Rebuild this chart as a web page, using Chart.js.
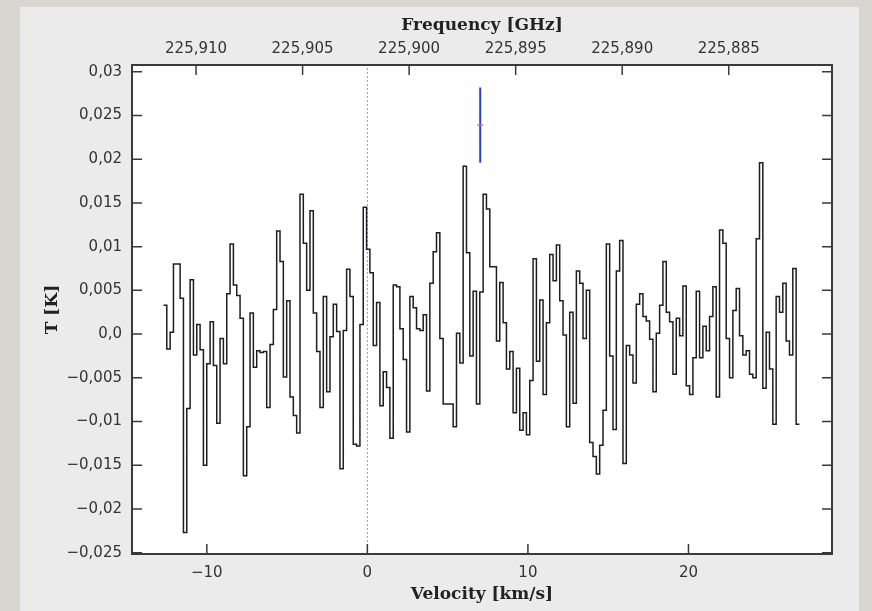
<!DOCTYPE html>
<html>
<head>
<meta charset="utf-8">
<title>Spectrum</title>
<script src="https://cdn.jsdelivr.net/npm/chart.js@4.4.1/dist/chart.umd.min.js"></script>
<style>
  html, body { margin: 0; padding: 0; }
  body { width: 872px; height: 611px; background: #d8d6d1; position: relative; overflow: hidden; }
  #panel { position: absolute; left: 20px; top: 7px; width: 839px; height: 604px; background: #ebebeb; }
  #wrap { position: absolute; left: 0; top: 0; width: 872px; height: 611px; }
</style>
</head>
<body>
<div id="panel"></div>
<div id="wrap"><canvas id="spectrum" width="872" height="611"></canvas></div>
<script>
// channel grid of the spectrum (left edge of first channel, width) in km/s
const vStart = -12.70;
const dv = 0.2074;
// rest frequency, GHz (frequency at 0 km/s)
const restFreq = 225.90196;
const lightSpeed = 299792.458;

// antenna temperature per channel [K]
const tempK = [
  0.0033, -0.0017, 0.0002, 0.0080, 0.0080, 0.0041, -0.0227, -0.0085, 0.0062, -0.0024,
  0.0011, -0.0018, -0.0150, -0.0034, 0.0014, -0.0036, -0.0102, -0.0005, -0.0034, 0.0046,
  0.0103, 0.0056, 0.0044, 0.0018, -0.0162, -0.0106, 0.0024, -0.0038, -0.0019, -0.0021,
  -0.0020, -0.0084, -0.0012, 0.0028, 0.0118, 0.0083, -0.0049, 0.0038, -0.0072, -0.0093,
  -0.0113, 0.0160, 0.0104, 0.0050, 0.0141, 0.0024, -0.0020, -0.0084, 0.0043, -0.0066,
  -0.0003, 0.0034, 0.0003, -0.0154, 0.0004, 0.0074, 0.0043, -0.0126, -0.0128, 0.0011,
  0.0145, 0.0097, 0.0070, -0.0013, 0.0036, -0.0082, -0.0043, -0.0061, -0.0119, 0.0056,
  0.0054, 0.0006, -0.0029, -0.0112, 0.0043, 0.0030, 0.0006, 0.0004, 0.0022, -0.0065,
  0.0058, 0.0094, 0.0116, -0.0005, -0.0080, -0.0080, -0.0080, -0.0106, 0.0001, -0.0033,
  0.0192, 0.0093, -0.0025, 0.0049, -0.0080, 0.0048, 0.0160, 0.0143, 0.0077, 0.0077,
  -0.0008, 0.0059, 0.0013, -0.0040, -0.0020, -0.0090, -0.0039, -0.0110, -0.0090, -0.0115,
  -0.0053, 0.0086, -0.0031, 0.0039, -0.0069, 0.0013, 0.0091, 0.0061, 0.0102, 0.0038,
  -0.0001, -0.0106, 0.0025, -0.0079, 0.0072, 0.0058, -0.0005, 0.0050, -0.0124, -0.0140,
  -0.0160, -0.0127, -0.0087, 0.0103, -0.0025, -0.0109, 0.0072, 0.0107, -0.0148, -0.0013,
  -0.0024, -0.0056, 0.0034, 0.0046, 0.0020, 0.0015, -0.0006, -0.0066, 0.0001, 0.0033,
  0.0083, 0.0025, 0.0014, -0.0046, 0.0018, -0.0002, 0.0055, -0.0059, -0.0069, -0.0027,
  0.0049, -0.0027, 0.0009, -0.0019, 0.0020, 0.0054, -0.0072, 0.0119, 0.0104, -0.0005,
  -0.0050, 0.0027, 0.0052, -0.0002, -0.0024, -0.0019, -0.0046, -0.0050, 0.0109, 0.0196,
  -0.0062, 0.0002, -0.0040, -0.0103, 0.0043, 0.0025, 0.0058, -0.0008, -0.0024, 0.0075, -0.0103
];

// axes
const vRange = [-14.66, 28.94];
const tRange = [-0.02515, 0.03077];
const velTicks = [-10, 0, 10, 20];
const freqTicks = [225.910, 225.905, 225.900, 225.895, 225.890, 225.885];
const tTicks = [-0.025, -0.02, -0.015, -0.01, -0.005, 0, 0.005, 0.01, 0.015, 0.02, 0.025, 0.03];

// error bar (velocity, low / mid / high)
const errV = 7.03;
const errT = [0.0196, 0.0239, 0.0282];

function toFreq(v) {
    return restFreq * (1 - v / lightSpeed);
}

function commaNum(v) {
    if (v === 0) return '0,0';
    const s = String(Math.round(v * 1000) / 1000).replace('.', ',');
    return s.replace('-', '\u2212');
}

// step histogram: each channel drawn over its full width
const specPoints = tempK.map((t, k) => ({x: vStart + k * dv, y: t}));
specPoints.push({x: vStart + tempK.length * dv, y: tempK[tempK.length - 1]});

const tickFont = {family: 'DejaVu Sans', size: 15};
const titleFont = {family: 'DejaVu Serif', size: 17, weight: 'bold'};

//frame + inward ticks like the original plot
const frameTicks = {
    id: 'frameTicks',
    beforeDatasetsDraw(chart) {
        const {ctx, chartArea: a} = chart;
        ctx.save();
        ctx.fillStyle = '#ffffff';
        ctx.fillRect(a.left, a.top, a.right - a.left, a.bottom - a.top);
        ctx.restore();
    },
    afterDatasetsDraw(chart) {
        const {ctx, chartArea: a, scales} = chart;
        const len = 10;
        ctx.save();
        ctx.strokeStyle = '#3a3a3a';
        ctx.lineWidth = 1.5;
        ctx.beginPath();
        scales.y.ticks.forEach(t => {
            const y = scales.y.getPixelForValue(t.value);
            ctx.moveTo(a.left, y); ctx.lineTo(a.left + len, y);
            ctx.moveTo(a.right, y); ctx.lineTo(a.right - len, y);
        });
        scales.x.ticks.forEach(t => {
            const x = scales.x.getPixelForValue(t.value);
            ctx.moveTo(x, a.bottom); ctx.lineTo(x, a.bottom - len);
        });
        scales.x2.ticks.forEach(t => {
            const x = scales.x2.getPixelForValue(t.value);
            ctx.moveTo(x, a.top); ctx.lineTo(x, a.top + len);
        });
        ctx.stroke();
        ctx.lineWidth = 2;
        ctx.strokeRect(a.left, a.top, a.right - a.left, a.bottom - a.top);
        ctx.restore();
    }
};

const ctx = document.getElementById('spectrum');
new Chart(ctx, {
    type: 'line',
    data: {
        datasets: [{
            label: 'spectrum',
            data: specPoints,
            stepped: 'before',
            borderColor: '#1e1e1e',
            borderWidth: 1.5,
            pointRadius: 0,
            order: 1
        }, {
            label: 'v=0',
            data: [{x: 0, y: tRange[0]}, {x: 0, y: tRange[1]}],
            borderColor: '#8c8cff',
            borderWidth: 1,
            borderDash: [2, 2],
            pointRadius: 0,
            order: 3
        }, {
            label: 'error',
            data: [{x: errV, y: errT[0]}, {x: errV, y: errT[2]}],
            borderColor: '#1f3cf5',
            borderWidth: 2,
            pointRadius: 0,
            order: 2
        }, {
            label: 'mid',
            data: [{x: errV, y: errT[1]}],
            showLine: false,
            pointStyle: 'line',
            pointRadius: 3,
            borderColor: '#e46a6a',
            borderWidth: 1.5,
            order: 0
        }]
    },
    options: {
        responsive: false,
        animation: false,
        layout: {padding: {left: 0, top: 0, right: 40, bottom: 0}},
        plugins: {
            legend: {display: false},
            tooltip: {enabled: false}
        },
        scales: {
            x: {
                type: 'linear',
                position: 'bottom',
                min: vRange[0],
                max: vRange[1],
                grid: {display: false, drawTicks: false},
                border: {display: false},
                afterBuildTicks: s => { s.ticks = velTicks.map(v => ({value: v})); },
                afterFit: s => { s.height = 57; },
                ticks: {font: tickFont, color: '#333', padding: 10, maxRotation: 0, autoSkip: false,
                    callback: v => String(v).replace('-', '\u2212')},
                title: {display: true, text: 'Velocity [km/s]', font: titleFont, color: '#222',
                    padding: {top: 0, bottom: 6}}
            },
            x2: {
                type: 'linear',
                position: 'top',
                reverse: true,
                min: toFreq(vRange[1]),
                max: toFreq(vRange[0]),
                grid: {display: false, drawTicks: false},
                border: {display: false},
                afterBuildTicks: s => { s.ticks = freqTicks.map(f => ({value: f})); },
                afterFit: s => { s.height = 65; },
                ticks: {font: tickFont, color: '#333', padding: 7, maxRotation: 0, autoSkip: false,
                    callback: v => v.toFixed(3).replace('.', ',')},
                title: {display: true, text: 'Frequency [GHz]', font: titleFont, color: '#222',
                    padding: {top: 15, bottom: 0}}
            },
            y: {
                type: 'linear',
                position: 'left',
                min: tRange[0],
                max: tRange[1],
                grid: {display: false, drawTicks: false},
                border: {display: false},
                afterBuildTicks: s => { s.ticks = tTicks.map(t => ({value: t})); },
                afterFit: s => { s.width = 132; },
                ticks: {font: tickFont, color: '#333', padding: 10, autoSkip: false,
                    callback: v => commaNum(v)},
                title: {display: true, text: 'T [K]', font: titleFont, color: '#222',
                    padding: {top: 42, bottom: 0}}
            }
        }
    },
    plugins: [frameTicks]
});
</script>
</body>
</html>
